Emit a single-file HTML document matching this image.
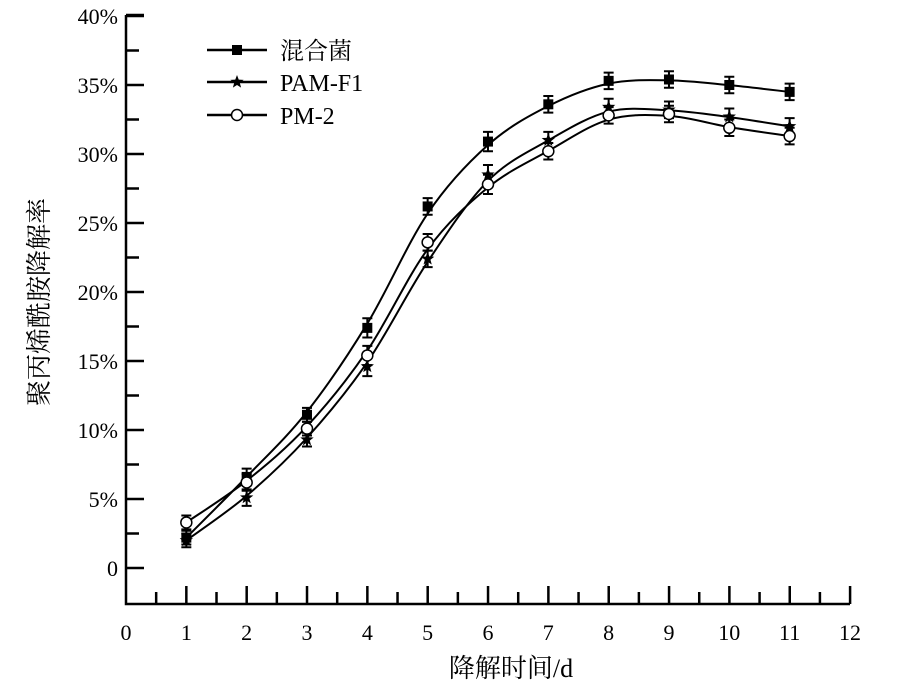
<!DOCTYPE html>
<html><head><meta charset="utf-8"><style>
body{margin:0;background:#fff;}
svg{display:block;font-family:"Liberation Serif","Noto Serif CJK SC",serif;}
</style></head><body>
<svg id="s" width="900" height="692" viewBox="0 0 900 692" xmlns="http://www.w3.org/2000/svg"></svg>
<script>
const s=document.getElementById('s');
const X=v=>126+v*60.33, Y=v=>568-v*13.8;
let h='';
h+='<g stroke="#000" stroke-width="2.5" fill="none"><path d="M126 15 V604 H850"/>';
for(let i=0;i<=16;i++){const y=Y(i*2.5);h+=`<path d="M126 ${y} H${i%2?139:144}"/>`;}
h+='<path d="M126 15 H144"/>';
for(let i=1;i<=24;i++){const x=126+i*30.17;h+=`<path d="M${x} 604 V${i%2?592:586}"/>`;}
h+='</g>';
const yl=['0','5%','10%','15%','20%','25%','30%','35%','40%'];
yl.forEach((t,i)=>{h+=`<text x="118" y="${Y(i*5)+8}" font-size="22" text-anchor="end">${t}</text>`;});
for(let i=0;i<=12;i++)h+=`<text x="${X(i)}" y="640" font-size="22" text-anchor="middle">${i}</text>`;
h+=`<text x="511" y="677" font-size="26" text-anchor="middle">降解时间/d</text>`;
h+=`<text transform="translate(48,302) rotate(-90)" font-size="26" text-anchor="middle">聚丙烯酰胺降解率</text>`;
const D=[
[2.2,6.6,11.1,17.4,26.2,30.9,33.6,35.3,35.4,35.0,34.5],
[2.0,5.1,9.3,14.6,22.4,28.5,31.0,33.4,33.2,32.7,32.0],
[3.3,6.2,10.1,15.4,23.6,27.8,30.2,32.8,32.9,31.9,31.3]];
const E=[0.5,0.6,0.5,0.7,0.6,0.7,0.6,0.6,0.6,0.6,0.6];
function path(d){const p=d.map((v,i)=>[X(i+1),Y(v)]);let r=`M${p[0][0]} ${p[0][1]}`;
for(let i=0;i<p.length-1;i++){const p0=p[i-1]||p[i],p1=p[i],p2=p[i+1],p3=p[i+2]||p2;
r+=` C${p1[0]+(p2[0]-p0[0])/6} ${p1[1]+(p2[1]-p0[1])/6} ${p2[0]-(p3[0]-p1[0])/6} ${p2[1]-(p3[1]-p1[1])/6} ${p2[0]} ${p2[1]}`;}return r;}
function smooth(d){const o=d.slice();for(let i=1;i<d.length-1;i++)o[i]=0.25*d[i-1]+0.5*d[i]+0.25*d[i+1];o[0]=d[0];o[d.length-1]=d[d.length-1];return d.map((v,i)=>0.5*v+0.5*o[i]);}
D.forEach(d=>{h+=`<path d="${path(smooth(d))}" fill="none" stroke="#000" stroke-width="2"/>`;});
function star(x,y,r){let p='';for(let k=0;k<10;k++){const a=-Math.PI/2+k*Math.PI/5,rr=k%2?r*0.42:r;p+=`${x+rr*Math.cos(a)},${y+rr*Math.sin(a)} `;}return `<polygon points="${p}" fill="#000"/>`;}
function mark(t,x,y){if(t==0)return `<rect x="${x-5}" y="${y-5}" width="10" height="10" fill="#000"/>`;
if(t==1)return star(x,y,7);return `<circle cx="${x}" cy="${y}" r="5.5" fill="#fff" stroke="#000" stroke-width="1.5"/>`;}
D.forEach((d,t)=>d.forEach((v,i)=>{const x=X(i+1),y=Y(v),e=E[i]*13.8;
h+=`<path d="M${x} ${y-e}V${y+e}M${x-5} ${y-e}H${x+5}M${x-5} ${y+e}H${x+5}" stroke="#000" stroke-width="2"/>`;h+=mark(t,x,y);}));
const L=[['混合菌',50],['PAM-F1',82],['PM-2',115]];
L.forEach((l,t)=>{h+=`<path d="M207 ${l[1]} H267" stroke="#000" stroke-width="2.5"/>`+mark(t,237,l[1])+`<text x="280" y="${l[1]+9}" font-size="24">${l[0]}</text>`;});
s.innerHTML=h;
</script>
</body></html>
